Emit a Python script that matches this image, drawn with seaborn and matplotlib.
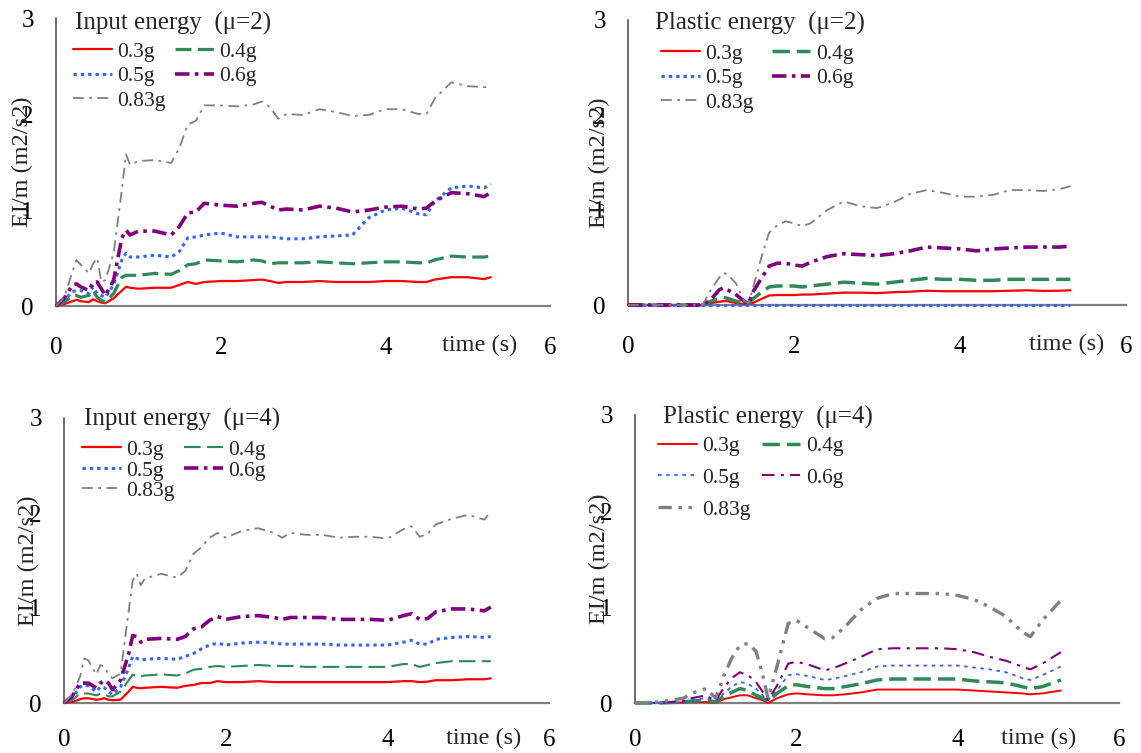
import matplotlib
matplotlib.use("Agg")
import matplotlib.pyplot as plt
import seaborn as sns

# ---------------- data ----------------
levels = ["0.3g", "0.4g", "0.5g", "0.6g", "0.83g"]

# Panel 1: Input energy (mu=2)
t_in2 = [0, 0.1, 0.2, 0.25, 0.3, 0.4, 0.45, 0.5, 0.55, 0.6, 0.7, 0.8, 0.85, 0.9, 1.0,
         1.2, 1.4, 1.5, 1.6, 1.7, 1.8, 2.0, 2.2, 2.4, 2.5, 2.6, 2.7, 2.8, 3.0, 3.2,
         3.4, 3.6, 3.8, 4.0, 4.2, 4.4, 4.5, 4.6, 4.8, 5.0, 5.2, 5.28]
in2_03 = [0, 0.02, 0.05, 0.065, 0.05, 0.04, 0.07, 0.05, 0.035, 0.03, 0.08, 0.16, 0.20, 0.19, 0.18,
          0.19, 0.19, 0.22, 0.25, 0.23, 0.25, 0.26, 0.26, 0.27, 0.275, 0.26, 0.24, 0.25, 0.25, 0.26,
          0.25, 0.25, 0.25, 0.26, 0.26, 0.25, 0.25, 0.275, 0.30, 0.30, 0.28, 0.30]
in2_04 = [0, 0.04, 0.11, 0.11, 0.09, 0.11, 0.16, 0.09, 0.06, 0.04, 0.13, 0.30, 0.32, 0.32, 0.32,
          0.34, 0.33, 0.37, 0.43, 0.44, 0.48, 0.47, 0.46, 0.48, 0.47, 0.44, 0.45, 0.45, 0.45, 0.46,
          0.45, 0.44, 0.45, 0.46, 0.46, 0.45, 0.45, 0.48, 0.52, 0.51, 0.51, 0.52]
in2_05 = [0, 0.06, 0.15, 0.16, 0.16, 0.13, 0.20, 0.13, 0.11, 0.09, 0.22, 0.48, 0.55, 0.51, 0.51,
          0.53, 0.51, 0.57, 0.71, 0.72, 0.74, 0.76, 0.72, 0.72, 0.72, 0.72, 0.71, 0.70, 0.70, 0.72,
          0.73, 0.74, 0.92, 1.00, 1.02, 0.96, 0.95, 1.09, 1.23, 1.25, 1.23, 1.27]
in2_06 = [0, 0.08, 0.22, 0.23, 0.20, 0.16, 0.25, 0.25, 0.18, 0.11, 0.27, 0.71, 0.79, 0.74, 0.78,
          0.78, 0.74, 0.83, 0.97, 0.98, 1.07, 1.05, 1.04, 1.07, 1.08, 1.04, 1.00, 1.01, 1.00, 1.04,
          1.02, 0.98, 1.00, 1.03, 1.04, 1.01, 1.02, 1.09, 1.18, 1.17, 1.14, 1.18]
in2_083 = [0, 0.09, 0.36, 0.48, 0.43, 0.34, 0.44, 0.50, 0.25, 0.27, 0.55, 1.21, 1.58, 1.47, 1.51,
           1.52, 1.49, 1.65, 1.89, 1.93, 2.09, 2.09, 2.08, 2.10, 2.13, 2.07, 1.95, 2.00, 1.99, 2.05,
           2.02, 1.98, 1.99, 2.05, 2.05, 2.00, 2.00, 2.16, 2.33, 2.29, 2.28, 2.28]

# Panel 2: Plastic energy (mu=2)
t_pl2 = [0, 0.5, 0.9, 1.0, 1.1, 1.15, 1.2, 1.3, 1.4, 1.45, 1.5, 1.6, 1.7, 1.8, 1.9, 2.0, 2.1,
         2.2, 2.4, 2.6, 2.8, 3.0, 3.2, 3.4, 3.6, 3.8, 4.0, 4.2, 4.4, 4.6, 4.8, 5.0, 5.2, 5.33]
pl2_03 = [0, 0, 0, 0.02, 0.035, 0.04, 0.04, 0.02, 0.01, 0.01, 0.02, 0.06, 0.10, 0.105, 0.105, 0.105, 0.11,
          0.11, 0.12, 0.13, 0.13, 0.125, 0.135, 0.14, 0.15, 0.145, 0.145, 0.145, 0.145, 0.15, 0.155, 0.148, 0.15, 0.155]
pl2_04 = [0, 0, 0, 0.04, 0.07, 0.08, 0.07, 0.04, 0.02, 0.01, 0.06, 0.13, 0.19, 0.20, 0.20, 0.20, 0.19,
          0.20, 0.22, 0.24, 0.23, 0.22, 0.24, 0.26, 0.28, 0.27, 0.27, 0.26, 0.26, 0.27, 0.27, 0.27, 0.27, 0.27]
pl2_05 = [0, 0, 0, 0, 0, 0, 0, 0, 0, 0, 0, 0, 0, 0, 0, 0, 0,
          0, 0, 0, 0, 0, 0, 0, 0, 0, 0, 0, 0, 0, 0, 0, 0, 0]
pl2_06 = [0, 0, 0, 0.06, 0.16, 0.18, 0.16, 0.11, 0.04, 0.01, 0.13, 0.27, 0.41, 0.44, 0.44, 0.42, 0.41,
          0.45, 0.51, 0.54, 0.53, 0.52, 0.54, 0.57, 0.61, 0.60, 0.59, 0.57, 0.59, 0.60, 0.61, 0.61, 0.61, 0.62]
pl2_083 = [0, 0, 0, 0.16, 0.29, 0.34, 0.32, 0.23, 0.04, 0.02, 0.16, 0.48, 0.76, 0.84, 0.88, 0.86, 0.83,
           0.86, 1.00, 1.09, 1.04, 1.02, 1.08, 1.17, 1.21, 1.18, 1.14, 1.14, 1.16, 1.21, 1.21, 1.20, 1.22, 1.25]

# Panel 3: Input energy (mu=4)
t_in4 = [0, 0.1, 0.2, 0.25, 0.3, 0.4, 0.45, 0.5, 0.55, 0.6, 0.7, 0.8, 0.85, 0.9, 0.95, 1.0,
         1.2, 1.4, 1.5, 1.6, 1.7, 1.8, 1.9, 2.0, 2.2, 2.4, 2.6, 2.7, 2.8, 3.0, 3.2, 3.4,
         3.6, 3.8, 4.0, 4.2, 4.3, 4.4, 4.5, 4.6, 4.8, 5.0, 5.2, 5.28]
in4_03 = [0, 0.01, 0.04, 0.05, 0.05, 0.035, 0.04, 0.05, 0.035, 0.03, 0.035, 0.12, 0.17, 0.16, 0.155, 0.16,
          0.17, 0.16, 0.18, 0.19, 0.21, 0.21, 0.23, 0.22, 0.22, 0.23, 0.22, 0.22, 0.22, 0.22, 0.22, 0.22,
          0.22, 0.22, 0.22, 0.23, 0.23, 0.22, 0.225, 0.24, 0.24, 0.25, 0.25, 0.26]
in4_04 = [0, 0.03, 0.10, 0.10, 0.10, 0.08, 0.10, 0.09, 0.07, 0.07, 0.12, 0.24, 0.30, 0.28, 0.28, 0.29,
          0.30, 0.29, 0.31, 0.35, 0.36, 0.38, 0.39, 0.38, 0.39, 0.40, 0.39, 0.39, 0.39, 0.38, 0.38, 0.38,
          0.38, 0.38, 0.38, 0.41, 0.41, 0.38, 0.40, 0.42, 0.44, 0.44, 0.44, 0.44]
in4_05 = [0, 0.05, 0.17, 0.19, 0.18, 0.12, 0.17, 0.16, 0.12, 0.09, 0.17, 0.37, 0.49, 0.47, 0.45, 0.46,
          0.47, 0.46, 0.49, 0.52, 0.57, 0.61, 0.63, 0.61, 0.63, 0.64, 0.63, 0.62, 0.62, 0.62, 0.62, 0.61,
          0.61, 0.61, 0.61, 0.64, 0.66, 0.62, 0.62, 0.67, 0.69, 0.70, 0.69, 0.70]
in4_06 = [0, 0.07, 0.21, 0.21, 0.21, 0.16, 0.21, 0.24, 0.21, 0.14, 0.24, 0.52, 0.71, 0.70, 0.64, 0.67,
          0.68, 0.67, 0.70, 0.78, 0.80, 0.87, 0.91, 0.88, 0.91, 0.92, 0.90, 0.88, 0.90, 0.90, 0.90, 0.88,
          0.88, 0.88, 0.87, 0.92, 0.94, 0.88, 0.89, 0.96, 0.99, 0.99, 0.97, 1.01]
in4_083 = [0, 0.09, 0.28, 0.47, 0.45, 0.30, 0.40, 0.38, 0.30, 0.26, 0.31, 0.97, 1.29, 1.36, 1.24, 1.31,
           1.36, 1.32, 1.39, 1.57, 1.64, 1.74, 1.79, 1.74, 1.81, 1.84, 1.79, 1.74, 1.79, 1.77, 1.77, 1.74,
           1.75, 1.75, 1.73, 1.83, 1.86, 1.75, 1.78, 1.88, 1.94, 1.98, 1.93, 2.02]

# Panel 4: Plastic energy (mu=4)
t_pl4 = [0, 0.3, 0.6, 0.7, 0.88, 1.0, 1.1, 1.2, 1.3, 1.4, 1.5, 1.58, 1.65, 1.76, 1.9, 2.0, 2.15,
         2.35, 2.45, 2.6, 2.8, 3.0, 3.2, 3.5, 3.8, 4.0, 4.2, 4.4, 4.6, 4.8, 4.9, 5.05, 5.28]
pl4_03 = [0, 0, 0.005, 0.01, 0.01, 0, 0.04, 0.06, 0.08, 0.08, 0.05, 0.03, 0, 0.05, 0.09, 0.10, 0.09,
          0.08, 0.08, 0.09, 0.11, 0.14, 0.14, 0.14, 0.14, 0.14, 0.13, 0.12, 0.11, 0.10, 0.09, 0.10, 0.13]
pl4_04 = [0, 0, 0.01, 0.02, 0.03, 0.01, 0.07, 0.11, 0.15, 0.13, 0.08, 0.05, 0.02, 0.10, 0.18, 0.19, 0.17,
          0.15, 0.15, 0.17, 0.20, 0.24, 0.25, 0.25, 0.25, 0.25, 0.23, 0.22, 0.21, 0.17, 0.15, 0.17, 0.24]
pl4_05 = [0, 0, 0.01, 0.03, 0.05, 0.02, 0.10, 0.17, 0.22, 0.20, 0.15, 0.08, 0.03, 0.13, 0.29, 0.30, 0.28,
          0.24, 0.25, 0.28, 0.32, 0.38, 0.39, 0.39, 0.39, 0.39, 0.37, 0.35, 0.32, 0.26, 0.24, 0.29, 0.38]
pl4_06 = [0, 0, 0.02, 0.05, 0.08, 0.02, 0.16, 0.26, 0.32, 0.29, 0.22, 0.12, 0.03, 0.18, 0.41, 0.43, 0.40,
          0.34, 0.36, 0.41, 0.48, 0.56, 0.57, 0.57, 0.57, 0.56, 0.53, 0.48, 0.44, 0.38, 0.35, 0.41, 0.53]
pl4_083 = [0, 0.01, 0.05, 0.10, 0.15, 0.05, 0.28, 0.47, 0.60, 0.62, 0.54, 0.30, 0.05, 0.38, 0.83, 0.86, 0.78,
           0.67, 0.68, 0.79, 0.97, 1.09, 1.14, 1.14, 1.14, 1.12, 1.08, 1.00, 0.90, 0.74, 0.69, 0.86, 1.07]

titles = ["Input energy  (\u03bc=2)", "Plastic energy  (\u03bc=2)",
          "Input energy  (\u03bc=4)", "Plastic energy  (\u03bc=4)"]
x_ticks = [0, 2, 4, 6]
y_ticks = [0, 1, 2, 3]
y_label = "EI/m (m2/s2)"
x_label = "time (s)"

colors = ["#ff0000", "#2e8b57", "#3366ff", "#800080", "#808080"]

# ---------------- layout / styles ----------------
W, H = 1141, 753
# axes pixel boxes: left, right, top, bottom
boxes = [(56, 550, 18, 306), (628, 1126, 20, 305), (64, 549, 418, 703), (635, 1119, 415, 703)]
ylab_off = [-34, -29, -36, -36]
xlab_t = [5.15, 5.29, 5.19, 5.0]
xlab_drop = [39, 39, 35, 35]
xtick_pad = [15, 15, 12, 12]
title_pos = [(0.23, 2.94), (0.33, 2.96), (0.25, 2.98), (0.35, 2.97)]
leg_anchor = [(0.034, 0.917), (0.066, 0.916), (0.037, 0.923), (0.048, 0.927)]
leg_colsp = [0.45, 0.85, 0.45, 0.5]
leg_lsp = [0.2, 0.2, 0.02, 0.55]

lws = [[1.6, 2.3, 2.2, 2.6, 1.3],
       [1.6, 2.5, 2.2, 2.6, 1.3],
       [1.6, 1.5, 2.2, 2.6, 1.3],
       [1.4, 2.5, 1.3, 1.5, 2.4]]
dashes = [["-", (0, (5, 2)), (0, (1.1, 1.3)), (0, (4, 1.5, 1, 1.5)), (0, (6, 3, 1.5, 3))],
          ["-", (0, (5, 2)), (0, (1.1, 1.3)), (0, (4, 1.5, 1, 1.5)), (0, (6, 3, 1.5, 3))],
          ["-", (0, (8, 3)), (0, (1.1, 1.3)), (0, (4, 1.5, 1, 1.5)), (0, (6, 3, 1.5, 3))],
          ["-", (0, (5, 2)), (0, (2, 2.5)), (0, (6, 3, 1.5, 3)), (0, (4, 2, 1, 2, 1, 2))]]

panels = [
    (t_in2, [in2_03, in2_04, in2_05, in2_06, in2_083]),
    (t_pl2, [pl2_03, pl2_04, pl2_05, pl2_06, pl2_083]),
    (t_in4, [in4_03, in4_04, in4_05, in4_06, in4_083]),
    (t_pl4, [pl4_03, pl4_04, pl4_05, pl4_06, pl4_083]),
]

sns.set_style("white")
plt.rcParams["font.family"] = ["Liberation Serif", "DejaVu Serif"]

fig = plt.figure(figsize=(W / 100, H / 100), dpi=100)

for i, (t, series) in enumerate(panels):
    l, r, tp, b = boxes[i]
    ax = fig.add_axes([l / W, 1 - b / H, (r - l) / W, (b - tp) / H])
    for j, vals in enumerate(series):
        sns.lineplot(x=t, y=vals, ax=ax, color=colors[j], linewidth=lws[i][j],
                     linestyle=dashes[i][j], label=levels[j], estimator=None,
                     sort=False, clip_on=False, zorder=3)
    ax.set_xlim(0, 6)
    ax.set_ylim(0, 3)
    ax.set_xticks(x_ticks)
    ax.set_yticks(y_ticks)
    ax.set_xticklabels([str(v) for v in x_ticks])
    ax.set_yticklabels([str(v) for v in y_ticks])
    for s in ["top", "right"]:
        ax.spines[s].set_visible(False)
    ax.spines["left"].set_color("#555555")
    ax.spines["bottom"].set_color("#808080")
    ax.spines["left"].set_linewidth(1.2)
    ax.spines["bottom"].set_linewidth(1.6)
    ax.tick_params(axis="y", direction="out", length=6, width=1.1, pad=10,
                   labelsize=18, colors="black")
    ax.tick_params(axis="x", direction="out", length=7, width=1.1, pad=xtick_pad[i],
                   labelsize=18, colors="black")
    ax.set_xlabel("")
    ax.set_ylabel(y_label, fontsize=17.5)
    ax.yaxis.label.set_va("center")
    ax.yaxis.set_label_coords(ylab_off[i] / (r - l), 0.5)
    ax.annotate(x_label, xy=(xlab_t[i], 0), xycoords=("data", "axes fraction"),
                xytext=(0, -xlab_drop[i] * 0.72), textcoords="offset points",
                ha="center", va="center", fontsize=17.5)
    ax.text(title_pos[i][0], title_pos[i][1], titles[i], fontsize=18,
            ha="left", va="center")
    h, lab = ax.get_legend_handles_labels()
    order = [0, 2, 4, 1, 3]
    ax.legend([h[k] for k in order], [lab[k] for k in order], ncol=2,
              loc="upper left", bbox_to_anchor=leg_anchor[i], frameon=False,
              fontsize=15.5, handlelength=1.8, handletextpad=0.25,
              columnspacing=leg_colsp[i], labelspacing=leg_lsp[i],
              borderpad=0, borderaxespad=0)

fig.savefig("out.png", dpi=100)
